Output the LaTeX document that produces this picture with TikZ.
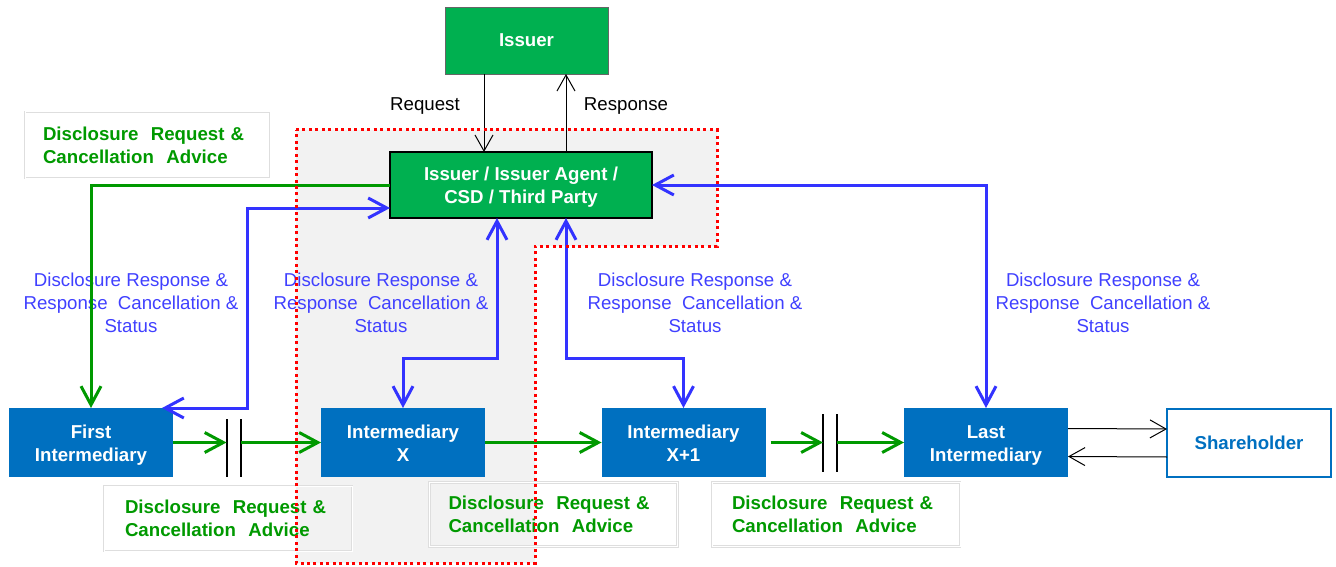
\documentclass[tikz,border=0pt]{standalone}
\usepackage{fontspec}
\setmainfont{Liberation Sans}
\usetikzlibrary{arrows.meta,calc}

\definecolor{boxblue}{HTML}{0070C0}
\definecolor{boxgreen}{HTML}{00B050}
\definecolor{flowgreen}{RGB}{0,153,0}
\definecolor{flowblue}{RGB}{51,51,255}
\definecolor{labelblue}{RGB}{64,64,255}
\definecolor{zonegray}{HTML}{F2F2F2}
\newcommand\lblfont{\fontsize{14}{17.25}\selectfont}
% fixed line height/depth so two-line box texts sit the same way
\newcommand\boxstrut{\rule[-3.3pt]{0pt}{17.2pt}}

\begin{document}
\begin{tikzpicture}[x=0.75pt,y=-0.75pt,
  party/.style={fill=boxblue, text=white, font=\lblfont\bfseries, align=center,
    inner sep=0pt, outer sep=0pt, minimum width=123pt, minimum height=51.75pt},
  issuerbox/.style={fill=boxgreen, draw=black, text=white, font=\lblfont\bfseries,
    align=center, inner sep=0pt, outer sep=0pt},
  holder/.style={draw=boxblue, line width=1.5pt, fill=white, text=boxblue,
    font=\lblfont\bfseries, inner sep=0pt, outer sep=0pt,
    minimum width=123pt, minimum height=51pt},
  reqlabel/.style={draw=black!13, line width=0.5pt, double=white, double distance=0.75pt,
    text=flowgreen, font=\lblfont\bfseries, align=left, inner ysep=0pt,
    minimum height=48.75pt},
  resplabel/.style={text=labelblue, font=\lblfont, align=center, inner sep=0pt},
  plainlabel/.style={font=\lblfont, inner sep=0pt},
  gapnode/.style={inner sep=0pt, outer sep=0pt, minimum width=10.5pt, minimum height=43.5pt},
  reqflow/.style={draw=flowgreen, line width=2.25pt,
    -{Straight Barb[length=14pt,width=15pt]}},
  respflow/.style={draw=flowblue, line width=2.25pt,
    {Straight Barb[length=14pt,width=15pt]}-{Straight Barb[length=14pt,width=15pt]}},
  thinflow/.style={draw=black, line width=0.75pt,
    -{Straight Barb[length=12pt,width=13.5pt]}},
  gapbar/.style={draw=black, line width=1.5pt},
  zone/.style={draw=red, line width=2.25pt, dash pattern=on 2.25pt off 2.6pt},
]
\useasboundingbox (0,0) rectangle (1336,567);

% outline of the shaded zone
\coordinate (z1) at (296,130);
\coordinate (z2) at (717,130);
\coordinate (z3) at (717,246);
\coordinate (z4) at (535,246);
\coordinate (z5) at (535,563);
\coordinate (z6) at (296,563);
\fill[zonegray] (z1) -- (z2) -- (z3) -- (z4) -- (z5) -- (z6) -- cycle;

% message labels
\node[reqlabel, minimum height=49.5pt, text width=156.75pt, inner xsep=13.5pt]
  (reqA) at (147.5,145) {Disclosure~ Request \&\\Cancellation~ Advice};
\node[reqlabel, text width=154.5pt, inner xsep=15.75pt]
  (reqB) at (228,518.5) {Disclosure~ Request \&\\Cancellation~ Advice};
\node[reqlabel, minimum height=48pt, text width=157.5pt, inner xsep=14.25pt]
  (reqC) at (553.5,514.5) {Disclosure~ Request \&\\Cancellation~ Advice};
\node[reqlabel, minimum height=48pt, text width=156pt, inner xsep=15pt]
  (reqD) at (836,514.5) {Disclosure~ Request \&\\Cancellation~ Advice};

\node[resplabel] (respA) at (131,303) {Disclosure Response \&\\Response~ Cancellation \&\\Status};
\node[resplabel] (respB) at (381,303) {Disclosure Response \&\\Response~ Cancellation \&\\Status};
\node[resplabel] (respC) at (695,303) {Disclosure Response \&\\Response~ Cancellation \&\\Status};
\node[resplabel] (respD) at (1103,303) {Disclosure Response \&\\Response~ Cancellation \&\\Status};

\node[plainlabel] (reqtxt) at (425,106) {Request};
\node[plainlabel] (restxt) at (626,106) {Response};

% parties
\node[issuerbox, draw=black!60, line width=0.4pt, minimum width=122.25pt, minimum height=50.25pt]
  (issuer) at (526.5,40.5) {Issuer};
\node[issuerbox, line width=0.9pt, minimum width=196.5pt, minimum height=49.5pt]
  (csd) at (521,185) {\boxstrut Issuer / Issuer Agent /\\\boxstrut CSD / Third Party};
\node[party] (first) at (91,442.5) {\boxstrut First\\\boxstrut Intermediary};
\node[party] (ix) at (403,442.5) {\boxstrut Intermediary\\\boxstrut X};
\node[party] (ix1) at (683.5,442.5) {\boxstrut Intermediary\\\boxstrut X+1};
\node[party] (last) at (986,442.5) {\boxstrut Last\\\boxstrut Intermediary};
\node[holder] (share) at (1249,443) {Shareholder};

% breaks in the chain
\node[gapnode] (gapA) at (233.5,448) {};
\node[gapnode] (gapB) at (830,443) {};
\draw[gapbar] (gapA.north west) -- (gapA.south west) (gapA.north east) -- (gapA.south east);
\draw[gapbar] (gapB.north west) -- (gapB.south west) (gapB.north east) -- (gapB.south east);

% bend points
\coordinate (reqx) at (484,0);
\coordinate (bendA) at (247,208);
\coordinate (bendB) at (497,358);
\coordinate (bendC) at (566,358);

% issuer request / response
\draw[thinflow] (issuer.south -| reqx) -- (csd.north -| reqx);
\draw[thinflow] (csd.north -| bendC) -- (issuer.south -| bendC);

% request flow down the chain
\draw[reqflow] (csd.west) -| (first.north);
\draw[reqflow] (first.east) -- (first.east -| gapA.west);
\draw[reqflow] (gapA.east |- ix.west) -- (ix.west);
\draw[reqflow] (ix.east) -- (ix1.west);
\draw[reqflow, shorten <=3.75pt] (ix1.east) -- (ix1.east -| gapB.west);
\draw[reqflow] (gapB.east |- last.west) -- (last.west);

% responses back to the issuer side
\draw[respflow] ($(first.north east)+(-11,0)$) -| (bendA) -- (csd.west |- bendA);
\draw[respflow] (csd.south -| bendB) -- (bendB) -| (ix.north);
\draw[respflow] (csd.south -| bendC) -- (bendC) -| (ix1.north);
\draw[respflow] (csd.east) -| (last.north);

% shareholder exchange
\draw[thinflow] ($(last.east)+(0,-14)$) -- ($(share.west)+(0,-14)$);
\draw[thinflow] ($(share.west)+(0,14)$) -- ($(last.east)+(0,14)$);

% dotted zone border on top
\draw[zone] (z1) -- (z2) -- (z3) -- (z4) -- (z5) -- (z6) -- cycle;
\end{tikzpicture}
\end{document}
